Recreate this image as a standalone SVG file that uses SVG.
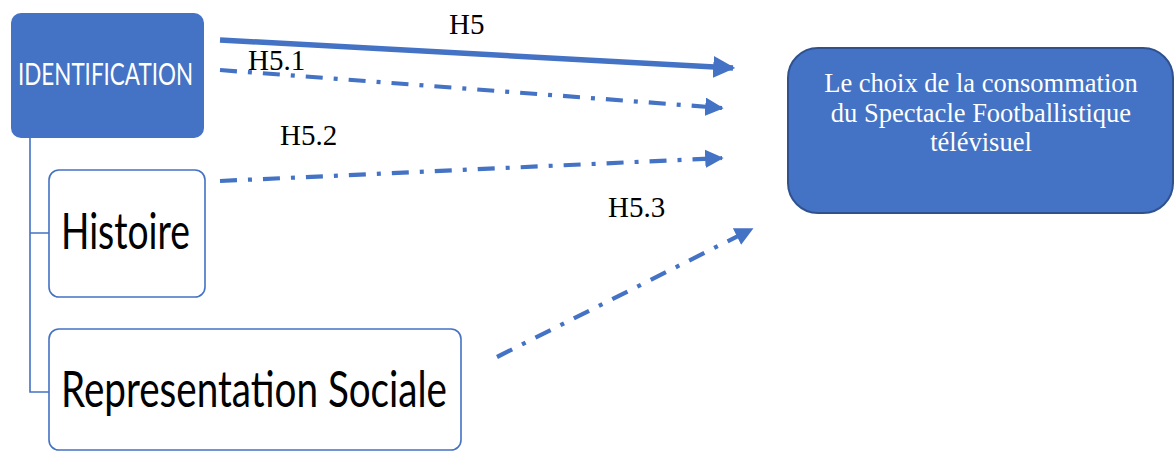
<svg xmlns="http://www.w3.org/2000/svg" width="1175" height="452" viewBox="0 0 1175 452">
<style>
.blue{fill:#4472C4}
.outline{fill:#ffffff;stroke:#4472C4;stroke-width:1.6}
.tree{fill:none;stroke:#4472C4;stroke-width:1.6}
.solid{fill:none;stroke:#4472C4;stroke-width:5.5}
.dd{fill:none;stroke:#4472C4;stroke-width:4.2;stroke-dasharray:17 11 4 11}
.lbl{font-family:"Liberation Serif","Times New Roman",serif;font-size:29px;fill:#000}
.sans{font-family:Lato,"Open Sans","Liberation Sans",sans-serif}
.tgt{font-family:"Liberation Serif","Times New Roman",serif;font-size:26.5px;fill:#ffffff;text-anchor:middle}
</style>
<defs>
<marker id="ah" markerWidth="4" markerHeight="4" refX="3.6" refY="2" orient="auto" markerUnits="strokeWidth" viewBox="0 0 4 4">
<path d="M0,0 L4,2 L0,4 z" fill="#4472C4"/>
</marker>
<marker id="ah2" markerWidth="4.4" markerHeight="4.4" refX="4" refY="2.2" orient="auto" markerUnits="strokeWidth" viewBox="0 0 4.4 4.4">
<path d="M0,0 L4.4,2.2 L0,4.4 z" fill="#4472C4"/>
</marker>
</defs>
<g id="connectors">
<path class="tree" d="M30,137 V392 H49 M30,233 H49"/>
<line class="solid" x1="220" y1="40" x2="733" y2="68" marker-end="url(#ah)"/>
<line class="dd" x1="220" y1="70" x2="722" y2="108" marker-end="url(#ah2)"/>
<line class="dd" x1="220" y1="181" x2="722" y2="158" marker-end="url(#ah2)"/>
<line class="dd" x1="497" y1="357" x2="752" y2="229" marker-end="url(#ah2)"/>
<text class="lbl" x="449" y="34">H5</text>
<text class="lbl" x="248" y="70">H5.1</text>
<text class="lbl" x="280" y="145">H5.2</text>
<text class="lbl" x="608" y="217">H5.3</text>
</g>
<g id="identification">
<rect class="blue" x="11" y="13" width="193" height="125" rx="10"/>
<text class="sans" x="18" y="85" font-size="30" fill="#ffffff" textLength="175" lengthAdjust="spacingAndGlyphs">IDENTIFICATION</text>
</g>
<g id="histoire">
<rect class="outline" x="49" y="170" width="156" height="127" rx="10"/>
<text class="sans" x="61" y="249" font-size="50" fill="#000" textLength="129" lengthAdjust="spacingAndGlyphs">Histoire</text>
</g>
<g id="representation">
<rect class="outline" x="49" y="329" width="412" height="121" rx="10"/>
<text class="sans" x="61" y="407" font-size="50" fill="#000" textLength="386" lengthAdjust="spacingAndGlyphs">Representation Sociale</text>
</g>
<g id="choix">
<rect x="788" y="48" width="385" height="165" rx="30" fill="#4472C4" stroke="#2F528F" stroke-width="2"/>
<text class="tgt" x="981" y="92">Le choix de la consommation</text>
<text class="tgt" x="981" y="122">du Spectacle Footballistique</text>
<text class="tgt" x="981" y="151">télévisuel</text>
</g>
</svg>
